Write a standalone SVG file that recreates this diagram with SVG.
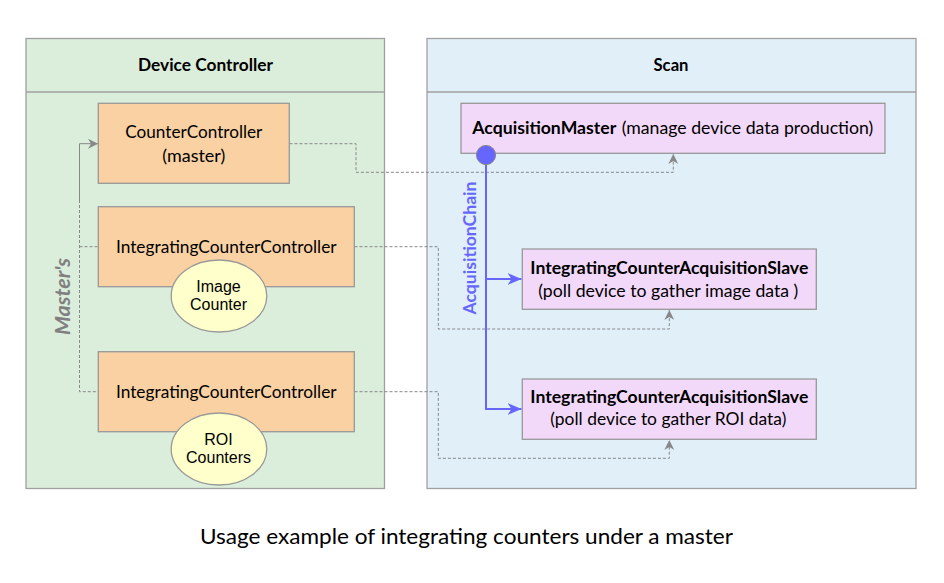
<svg xmlns="http://www.w3.org/2000/svg" width="944" height="583" viewBox="0 0 944 583">
<style>
.cont{stroke:#a0a0a0;stroke-width:1.3}
.green{fill:#dbeddb}
.blue{fill:#e0eff8}
.orange{fill:#f9d1a3;stroke:#999;stroke-width:1.3}
.pink{fill:#f3d9f9;stroke:#999;stroke-width:1.3}
.ell{fill:#ffffcc;stroke:#999;stroke-width:1.3}
.t{font-family:Lato,"Liberation Sans",sans-serif;font-size:16.5px;fill:#000}
.b{font-weight:bold}
.a{font-family:"Liberation Sans",Arial,sans-serif;font-size:16px;fill:#000}
.dash{fill:none;stroke:#888;stroke-width:1;stroke-dasharray:3,2}
.solid{fill:none;stroke:#888;stroke-width:1}
.chain{fill:none;stroke:#6666ff;stroke-width:2}
</style>
<defs>
<marker id="ga" viewBox="0 0 10 10" refX="10" refY="5" markerWidth="10" markerHeight="10" markerUnits="userSpaceOnUse" orient="auto">
<path d="M0,0 L10,5 L0,10 L3,5 Z" fill="#888"/>
</marker>
<marker id="ba" viewBox="0 0 14 12" refX="14" refY="6" markerWidth="14" markerHeight="12" markerUnits="userSpaceOnUse" orient="auto">
<path d="M0,0 L14,6 L0,12 L4,6 Z" fill="#6666ff"/>
</marker>
</defs>
<rect width="944" height="583" fill="#fff"/>

<g id="device-controller">
<rect class="cont green" x="26" y="38.5" width="358.5" height="450"/>
<line class="cont" x1="26" y1="92" x2="384.5" y2="92"/>
<text class="t b" x="205.5" y="70.5" text-anchor="middle" textLength="135" lengthAdjust="spacingAndGlyphs">Device Controller</text>
</g>

<g id="scan">
<rect class="cont blue" x="427" y="38.5" width="489" height="450"/>
<line class="cont" x1="427" y1="92" x2="916" y2="92"/>
<text class="t b" x="671" y="70.5" text-anchor="middle" textLength="35" lengthAdjust="spacingAndGlyphs">Scan</text>
</g>

<g id="connectors">
<path class="solid" d="M79.5,200 L79.5,143.7 L98,143.7" marker-end="url(#ga)"/>
<path class="dash" d="M79.5,200 L79.5,391.7 L98,391.7"/>
<path class="dash" d="M79.5,246.7 L98,246.7"/>
<path class="dash" d="M289.5,143.7 L356,143.7 L356,172.3 L673.3,172.3 L673.3,154" marker-end="url(#ga)"/>
<path class="dash" d="M354.5,246.7 L438.3,246.7 L438.3,329 L669.3,329 L669.3,310" marker-end="url(#ga)"/>
<path class="dash" d="M354.5,391.7 L438.3,391.7 L438.3,458.3 L669.3,458.3 L669.3,440" marker-end="url(#ga)"/>
<path class="chain" d="M486,155 L486,409 L521.5,409" marker-end="url(#ba)"/>
<path class="chain" d="M486,279 L521.5,279" marker-end="url(#ba)"/>
<text x="0" y="0" transform="translate(475.5,248) rotate(-90)" text-anchor="middle" font-family="Lato,'Liberation Sans',sans-serif" font-size="16.5" font-weight="bold" fill="#6666ff" textLength="133" lengthAdjust="spacingAndGlyphs">AcquisitionChain</text>
<text x="0" y="0" transform="translate(70,296.5) rotate(-90)" text-anchor="middle" font-family="Lato,'Liberation Sans',sans-serif" font-size="21" font-weight="bold" font-style="italic" fill="#808080" textLength="77" lengthAdjust="spacingAndGlyphs">Master's</text>
</g>

<g id="counter-controller">
<rect class="orange" x="98.3" y="103.3" width="191" height="80"/>
<text class="t" x="193.8" y="138" text-anchor="middle" textLength="137" lengthAdjust="spacingAndGlyphs">CounterController</text>
<text class="t" x="193.8" y="162" text-anchor="middle" textLength="63" lengthAdjust="spacingAndGlyphs">(master)</text>
</g>

<g id="integrating-controller-1">
<rect class="orange" x="98.3" y="206.7" width="256" height="80"/>
<text class="t" x="226.3" y="253" text-anchor="middle" textLength="220.7" lengthAdjust="spacingAndGlyphs">IntegratingCounterController</text>
</g>

<g id="image-counter">
<ellipse class="ell" cx="219" cy="296" rx="47.8" ry="36"/>
<text class="a" x="218.5" y="291.7" text-anchor="middle">Image</text>
<text class="a" x="218.5" y="310" text-anchor="middle">Counter</text>
</g>

<g id="integrating-controller-2">
<rect class="orange" x="98.3" y="351.7" width="256" height="80"/>
<text class="t" x="226.3" y="397.5" text-anchor="middle" textLength="220.7" lengthAdjust="spacingAndGlyphs">IntegratingCounterController</text>
</g>

<g id="roi-counters">
<ellipse class="ell" cx="219" cy="449" rx="47.8" ry="36"/>
<text class="a" x="218.5" y="445" text-anchor="middle">ROI</text>
<text class="a" x="218.5" y="462.5" text-anchor="middle">Counters</text>
</g>

<g id="acquisition-master">
<rect class="pink" x="461" y="103.3" width="424" height="50"/>
<text class="t b" x="472.3" y="133.5" textLength="144" lengthAdjust="spacingAndGlyphs">AcquisitionMaster</text>
<text class="t" x="621.7" y="133.5" textLength="251.6" lengthAdjust="spacingAndGlyphs">(manage device data production)</text>
<circle cx="486" cy="155" r="9.6" fill="#6666ff" stroke="#888" stroke-width="1"/>
</g>

<g id="slave-image">
<rect class="pink" x="522.3" y="249" width="294" height="60.3"/>
<text class="t b" x="669.3" y="273.5" text-anchor="middle" textLength="278" lengthAdjust="spacingAndGlyphs">IntegratingCounterAcquisitionSlave</text>
<text class="t" x="668.3" y="297" text-anchor="middle" textLength="260" lengthAdjust="spacingAndGlyphs">(poll device to gather image data )</text>
</g>

<g id="slave-roi">
<rect class="pink" x="522.3" y="379" width="294" height="60.3"/>
<text class="t b" x="669.3" y="402.5" text-anchor="middle" textLength="278" lengthAdjust="spacingAndGlyphs">IntegratingCounterAcquisitionSlave</text>
<text class="t" x="668.3" y="425.3" text-anchor="middle" textLength="236" lengthAdjust="spacingAndGlyphs">(poll device to gather ROI data)</text>
</g>

<text x="466.5" y="544.3" text-anchor="middle" font-family="Lato,'Liberation Sans',sans-serif" font-size="20.5" fill="#000" textLength="533" lengthAdjust="spacingAndGlyphs">Usage example of integrating counters under a master</text>
</svg>
